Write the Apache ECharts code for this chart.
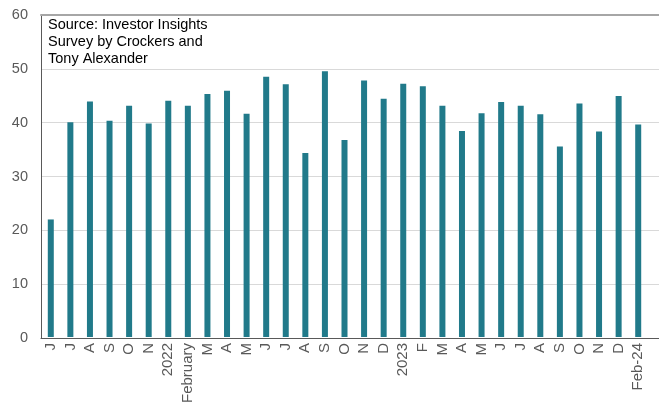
<!DOCTYPE html>
<html>
<head>
<meta charset="utf-8">
<script src="https://cdn.jsdelivr.net/npm/echarts@6/dist/echarts.min.js"></script>
<style>
html,body{margin:0;padding:0;background:#fff;}
#main{width:659px;height:406px;}
</style>
</head>
<body>
<div id="main"></div>
<script>
// 月份标签
var months = ['J','J','A','S','O','N','2022','February','M','A','M','J','J','A','S','O','N','D',
	'2023','F','M','A','M','J','J','A','S','O','N','D','Feb-24'];
// 调查数值
var values = [21.9,40.0,43.9,40.3,43.1,39.8,44.0,43.1,45.3,45.9,41.6,48.5,47.1,34.3,49.5,36.7,
	47.8,44.4,47.2,46.7,43.1,38.4,41.7,43.8,43.1,41.5,35.5,43.5,38.3,44.9,39.6];
var yTicks = [0,10,20,30,40,50,60];
var note = 'Source: Investor Insights\nSurvey by Crockers and\nTony Alexander';

var font = 'Liberation Sans, Arial, sans-serif';
var myCharts = echarts.init(document.getElementById('main'));
var option = {
	animation: false,
	title: {
		text: note,
		left: 48,
		top: 16,
		padding: 0,
		textStyle: {fontFamily: font, fontSize: 14.5, fontWeight: 'normal', color: '#000', lineHeight: 17}
	},
	grid: [
		// 整个区域的网格线
		{left: 41, right: 0, top: 15, bottom: 68},
		// 柱子
		{left: 41, right: 11, top: 15, bottom: 68}
	],
	xAxis: [
		{gridIndex: 0, type: 'value', position: 'bottom', min: 0, max: 1,
			axisLine: {show: true, onZero: false, lineStyle: {color: '#595959', width: 1}},
			axisTick: {show: false}, axisLabel: {show: false}, splitLine: {show: false}},
		{gridIndex: 0, type: 'value', position: 'top', min: 0, max: 1,
			axisLine: {show: true, onZero: false, lineStyle: {color: '#a6a6a6', width: 2}},
			axisTick: {show: false}, axisLabel: {show: false}, splitLine: {show: false}},
		{gridIndex: 1, type: 'category', data: months, boundaryGap: true,
			axisLine: {show: false}, axisTick: {show: false},
			axisLabel: {interval: 0, rotate: 90, margin: 6, color: '#595959', fontFamily: font, fontSize: 15}}
	],
	yAxis: [
		{gridIndex: 0, type: 'value', min: yTicks[0], max: yTicks[yTicks.length-1], interval: 10,
			axisLine: {show: true, lineStyle: {color: '#595959'}}, axisTick: {show: false},
			axisLabel: {margin: 13, color: '#595959', fontFamily: font, fontSize: 14.5},
			splitLine: {show: true, lineStyle: {color: '#d9d9d9', width: 1}}},
		{gridIndex: 1, type: 'value', min: yTicks[0], max: yTicks[yTicks.length-1], interval: 10,
			show: false, splitLine: {show: false}}
	],
	series: [{
		type: 'bar',
		xAxisIndex: 2,
		yAxisIndex: 1,
		data: values,
		barWidth: 6,
		itemStyle: {color: '#217a8a'}
	}]
};
myCharts.setOption(option);
</script>
</body>
</html>
